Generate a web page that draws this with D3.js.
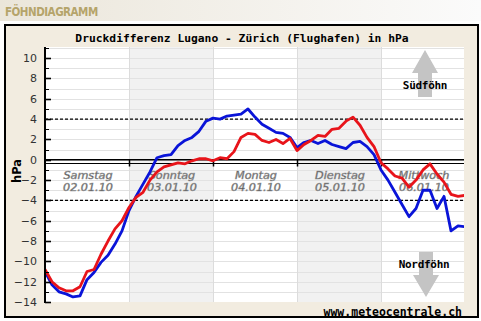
<!DOCTYPE html>
<html>
<head>
<meta charset="utf-8">
<script src="https://cdn.jsdelivr.net/npm/d3@7"></script>
<style>
  body { margin: 0; background: #fff; }
  svg { display: block; }
</style>
</head>
<body>
<div id="chart"></div>
<script>
// hours since Sat 02.01.10 00:00
const hours = [0, 2, 4, 6, 8, 10, 12, 14, 16, 18, 20, 22,
  24, 26, 28, 30, 32, 34, 36, 38, 40, 42, 44, 46,
  48, 50, 52, 54, 56, 58, 60, 62, 64, 66, 68, 70,
  72, 74, 76, 78, 80, 82, 84, 86, 88, 90, 92, 94,
  96, 98, 100, 102, 104, 106, 108, 110, 112, 114, 116, 118, 120];

const blueSeries = [-11.0, -12.3, -13.0, -13.2, -13.5, -13.4, -11.8, -11.1, -10.1, -9.4, -8.3, -7.0,
  -5.0, -3.6, -2.4, -1.2, 0.2, 0.4, 0.5, 1.4, 1.9, 2.2, 2.8, 3.8,
  4.1, 4.0, 4.3, 4.4, 4.5, 5.0, 4.2, 3.5, 3.1, 2.7, 2.6, 2.2,
  1.2, 1.7, 1.9, 1.6, 1.9, 1.5, 1.3, 1.1, 1.7, 1.8, 1.3, 0.5,
  -1.0, -2.0, -3.2, -4.4, -5.6, -4.8, -3.0, -3.0, -4.8, -3.6, -7.0, -6.5, -6.6];

const redSeries = [-10.8, -12.0, -12.6, -12.9, -12.9, -12.5, -11.0, -10.8, -9.3, -8.0, -6.8, -6.0,
  -4.7, -3.7, -3.2, -2.0, -1.2, -0.7, -0.5, -0.3, -0.4, -0.1, 0.1, 0.1,
  -0.1, 0.2, 0.1, 0.8, 2.2, 2.6, 2.5, 1.9, 1.7, 2.0, 1.6, 2.1,
  0.9, 1.5, 1.9, 2.4, 2.3, 3.0, 3.1, 3.8, 4.2, 3.4, 2.2, 1.3,
  -0.3, -0.9, -1.6, -1.8, -2.7, -2.0, -1.0, -0.4, -1.4, -2.2, -3.4, -3.6, -3.5];

const dayNames = ["Samstag", "Sonntag", "Montag", "Dienstag", "Mittwoch"];
const dayDates = ["02.01.10", "03.01.10", "04.01.10", "05.01.10", "06.01.10"];
const yTicks = [10, 8, 6, 4, 2, 0, -2, -4, -6, -8, -10, -12, -14];

const W = 481, H = 321;
const plot = { left: 45, right: 464, top: 47, bottom: 302 };

const svg = d3.select('#chart').append('svg')
  .attr('width', W).attr('height', H);

const defs = svg.append('defs');
const grad = defs.append('linearGradient').attr('id', 'topband')
  .attr('x1', 0).attr('x2', 1).attr('y1', 0).attr('y2', 0);
grad.append('stop').attr('offset', 0).attr('stop-color', '#ebe6da');
grad.append('stop').attr('offset', 1).attr('stop-color', '#fbfbfb');
defs.append('clipPath').attr('id', 'clip').append('rect')
  .attr('x', plot.left).attr('y', plot.top)
  .attr('width', plot.right - plot.left).attr('height', plot.bottom - plot.top);

// header band
svg.append('rect').attr('x', 0).attr('y', 0).attr('width', W).attr('height', 21)
  .attr('fill', 'url(#topband)');
svg.append('text').attr('x', 5).attr('y', 16)
  .attr('font-family', 'DejaVu Sans Condensed, DejaVu Sans').attr('font-weight', 'bold')
  .attr('font-size', 11.5).attr('fill', '#b5a46a').attr('letter-spacing', -0.5)
  .text('FÖHNDIAGRAMM');

// frame
svg.append('rect').attr('x', 5).attr('y', 25).attr('width', 473).attr('height', 292)
  .attr('fill', '#f2ece0').attr('stroke', '#000').attr('stroke-width', 2);

svg.append('text').attr('x', 242).attr('y', 42).attr('text-anchor', 'middle')
  .attr('font-family', 'DejaVu Sans Mono').attr('font-weight', 'bold')
  .attr('font-size', 11.3).attr('fill', '#000')
  .text('Druckdifferenz Lugano - Zürich (Flughafen) in hPa');

const t0 = new Date(2010, 0, 2);
const x = d3.scaleTime()
  .domain([t0, d3.timeHour.offset(t0, 120)])
  .range([plot.left, plot.right + 1]);
const y = d3.scaleLinear()
  .domain([-14, 11.1])
  .range([plot.bottom, plot.top]);

// plot background and day bands
svg.append('rect').attr('x', plot.left).attr('y', plot.top)
  .attr('width', plot.right - plot.left).attr('height', plot.bottom - plot.top)
  .attr('fill', '#fff');
svg.append('g').selectAll('rect')
  .data(dayNames)
  .join('rect')
  .attr('x', (d, i) => x(d3.timeDay.offset(t0, i)))
  .attr('y', plot.top)
  .attr('width', (d, i) => x(d3.timeDay.offset(t0, i + 1)) - x(d3.timeDay.offset(t0, i)))
  .attr('height', plot.bottom - plot.top)
  .attr('fill', (d, i) => i % 2 ? '#f1f1f1' : 'none');

// grid
svg.append('g').selectAll('line')
  .data(d3.range(-13, 12))
  .join('line')
  .attr('x1', plot.left).attr('x2', plot.right)
  .attr('y1', d => Math.round(y(d)) + 0.5).attr('y2', d => Math.round(y(d)) + 0.5)
  .attr('stroke', '#e2e2e2');
svg.append('g').selectAll('line')
  .data([1, 2, 3, 4])
  .join('line')
  .attr('x1', d => Math.round(x(d3.timeDay.offset(t0, d))) + 0.5)
  .attr('x2', d => Math.round(x(d3.timeDay.offset(t0, d))) + 0.5)
  .attr('y1', plot.top).attr('y2', plot.bottom)
  .attr('stroke', '#dcdcdc');

// Föhn thresholds
svg.append('g').selectAll('line')
  .data([4, -4])
  .join('line')
  .attr('x1', plot.left).attr('x2', plot.right)
  .attr('y1', d => y(d)).attr('y2', d => y(d))
  .attr('stroke', '#000').attr('stroke-width', 1.4).attr('stroke-dasharray', '3,2');

// arrows
const arrowUp = (cx, tip, base, end) =>
  `M${cx},${tip} L${cx + 13},${base} L${cx + 7},${base} L${cx + 7},${end} L${cx - 7},${end} L${cx - 7},${base} L${cx - 13},${base} Z`;
svg.append('path').attr('d', arrowUp(425, 50, 73, 97)).attr('fill', '#c4c4c4');
svg.append('path').attr('d', arrowUp(426, 297, 275, 252)).attr('fill', '#c4c4c4');
svg.append('text').attr('x', 425).attr('y', 89).attr('text-anchor', 'middle')
  .attr('font-family', 'DejaVu Sans Mono').attr('font-weight', 'bold')
  .attr('font-size', 11).attr('letter-spacing', -0.3).text('Südföhn');
svg.append('text').attr('x', 424).attr('y', 268).attr('text-anchor', 'middle')
  .attr('font-family', 'DejaVu Sans Mono').attr('font-weight', 'bold')
  .attr('font-size', 11).attr('letter-spacing', -0.3).text('Nordföhn');

// zero line + day axis
svg.append('line').attr('x1', plot.left).attr('x2', plot.right)
  .attr('y1', y(0)).attr('y2', y(0)).attr('stroke', '#000').attr('stroke-width', 1.6);
const dayAxis = svg.append('g').attr('transform', `translate(0, ${Math.round(y(0)) + 3.5})`);
dayAxis.append('line').attr('x1', plot.left).attr('x2', plot.right)
  .attr('stroke', '#000');
dayAxis.selectAll('.dtick')
  .data([1, 2, 3, 4])
  .join('line')
  .attr('class', 'dtick')
  .attr('x1', d => Math.round(x(d3.timeDay.offset(t0, d))) + 0.5)
  .attr('x2', d => Math.round(x(d3.timeDay.offset(t0, d))) + 0.5)
  .attr('y1', -4).attr('y2', 3)
  .attr('stroke', '#000').attr('stroke-width', 1.5);

// day labels (slightly smeared look via a light stroke)
const dayLabels = svg.append('g')
  .attr('font-family', 'DejaVu Sans').attr('font-style', 'italic')
  .attr('font-size', 11.2).attr('text-anchor', 'middle')
  .attr('fill', '#444').attr('stroke', '#9a9a9a').attr('stroke-width', 0.5);
dayNames.forEach((name, i) => {
  const cx = x(d3.timeHour.offset(t0, i * 24 + 12)) + 1;
  dayLabels.append('text').attr('x', cx).attr('y', 179).text(name);
  dayLabels.append('text').attr('x', cx).attr('y', 191).text(dayDates[i]);
});

// series
const line = d3.line()
  .x((d, i) => x(d3.timeHour.offset(t0, hours[i])))
  .y(d => y(d));
const lines = svg.append('g').attr('clip-path', 'url(#clip)');
lines.append('path').datum(blueSeries)
  .attr('d', line).attr('fill', 'none')
  .attr('stroke', '#0a14d8').attr('stroke-width', 2.8).attr('stroke-linejoin', 'round');
lines.append('path').datum(redSeries)
  .attr('d', line).attr('fill', 'none')
  .attr('stroke', '#e8141a').attr('stroke-width', 2.8).attr('stroke-linejoin', 'round');

// y axis
const yAxis = svg.append('g').attr('transform', `translate(${plot.left}, 0)`);
yAxis.append('line').attr('y1', plot.top).attr('y2', plot.bottom + 1)
  .attr('stroke', '#000').attr('stroke-width', 2);
yAxis.selectAll('.minor')
  .data(d3.range(-14, 12))
  .join('line')
  .attr('class', 'minor')
  .attr('x1', 0).attr('x2', d => d % 2 === 0 ? 6 : 4)
  .attr('y1', d => Math.round(y(d)) + 0.5).attr('y2', d => Math.round(y(d)) + 0.5)
  .attr('stroke', '#000').attr('stroke-width', d => d % 2 === 0 ? 1.6 : 1);
yAxis.selectAll('text')
  .data(yTicks)
  .join('text')
  .attr('x', -8).attr('y', d => y(d) + 4)
  .attr('text-anchor', 'end')
  .attr('font-family', 'DejaVu Sans').attr('font-size', 11)
  .attr('fill', '#333')
  .text(d => d < 0 ? '\u2212' + Math.abs(d) : d);

svg.append('text')
  .attr('transform', 'translate(21, 171) rotate(-90)')
  .attr('text-anchor', 'middle')
  .attr('font-family', 'DejaVu Sans').attr('font-weight', 'bold').attr('font-size', 11.5)
  .text('hPa');

// footer
svg.append('text').attr('x', 462).attr('y', 316).attr('text-anchor', 'end')
  .attr('font-family', 'DejaVu Sans Mono').attr('font-weight', 'bold')
  .attr('font-size', 11.5)
  .text('www.meteocentrale.ch');
</script>
</body>
</html>
